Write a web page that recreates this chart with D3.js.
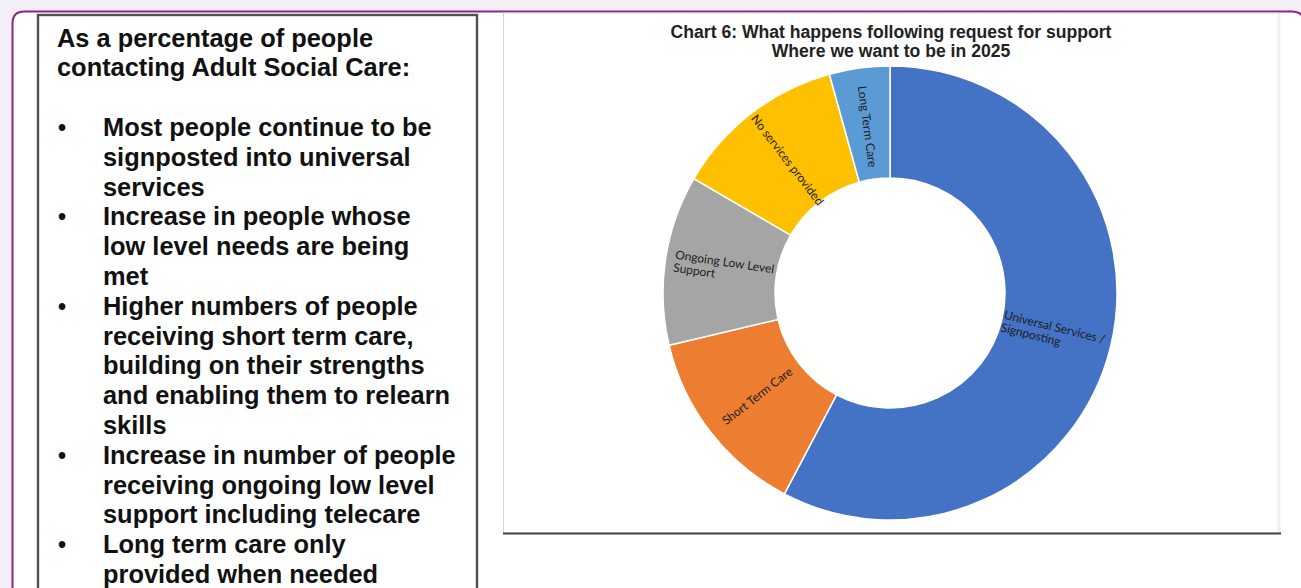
<!DOCTYPE html>
<html>
<head>
<meta charset="utf-8">
<script src="https://cdn.jsdelivr.net/npm/d3@7"></script>
<style>
  html, body { margin: 0; padding: 0; background: #f4eff6; overflow: hidden; }
  svg { display: block; }
</style>
</head>
<body>
<svg id="page" width="1301" height="588"></svg>
<script>
// Outcome shares (%) following a request for support, 2025 target
const categories = ["Universal Services / Signposting", "Short Term Care", "Ongoing Low Level Support", "No services provided", "Long Term Care"];
const values = [57.7, 13.6, 12.1, 12.3, 4.3];
const labelLines = [["Universal Services /", "Signposting"], ["Short Term Care"], ["Ongoing Low Level", "Support"], ["No services provided"], ["Long Term Care"]];
const sliceColors = ["#4472C4", "#ED7D31", "#A5A5A5", "#FFC000", "#5B9BD5"];

const titleLines = ["Chart 6: What happens following request for support", "Where we want to be in 2025"];

const introLines = ["As a percentage of people", "contacting Adult Social Care:"];
const bulletPoints = [
  ["Most people continue to be", "signposted into universal", "services"],
  ["Increase in people whose", "low level needs are being", "met"],
  ["Higher numbers of people", "receiving short term care,", "building on their strengths", "and enabling them to relearn", "skills"],
  ["Increase in number of people", "receiving ongoing low level", "support including telecare"],
  ["Long term care only", "provided when needed"]
];

const svg = d3.select("#page");

// Card with rounded top corners (right edge runs just past the page)
const cardL = 12.5, cardT = 11.5, cardR = 1304, rad = 12;
svg.append("path")
  .attr("d", `M${cardL},600 L${cardL},${cardT + rad} Q${cardL},${cardT} ${cardL + rad},${cardT} L${cardR - rad},${cardT} Q${cardR},${cardT} ${cardR},${cardT + rad} L${cardR},600`)
  .attr("fill", "#ffffff")
  .attr("stroke", "#8c2584")
  .attr("stroke-width", 2);

// Text panel
svg.append("rect")
  .attr("x", 38).attr("y", 15).attr("width", 439).attr("height", 620)
  .attr("fill", "#ffffff")
  .attr("stroke", "#505050").attr("stroke-width", 2.4);

const textG = svg.append("g")
  .attr("font-family", "'Liberation Sans', Arial, sans-serif")
  .attr("font-weight", "bold")
  .attr("font-size", 25.4)
  .attr("fill", "#111");

const lineStep = 29.8, firstBase = 46.5;
let row = 0;
introLines.forEach(t => {
  textG.append("text").attr("x", 57).attr("y", firstBase + row * lineStep).text(t);
  row++;
});
row++; // blank line
bulletPoints.forEach(item => {
  textG.append("text").attr("x", 58).attr("y", firstBase + row * lineStep)
    .attr("font-size", 23).text("\u2022");
  item.forEach(t => {
    textG.append("text").attr("x", 103).attr("y", firstBase + row * lineStep).text(t);
    row++;
  });
});

// Chart frame
svg.append("rect")
  .attr("x", 503.5).attr("y", 13).attr("width", 775).attr("height", 520)
  .attr("fill", "#ffffff")
  .attr("stroke", "#d4d4d4").attr("stroke-width", 1);
svg.append("line")
  .attr("x1", 1279).attr("x2", 1279).attr("y1", 13).attr("y2", 532)
  .attr("stroke", "#efefef").attr("stroke-width", 3);
svg.append("line")
  .attr("x1", 503).attr("x2", 1281).attr("y1", 533.5).attr("y2", 533.5)
  .attr("stroke", "#454545").attr("stroke-width", 2.2);

// Title
const title = svg.append("text")
  .attr("text-anchor", "middle")
  .attr("font-family", "'Liberation Sans', Arial, sans-serif")
  .attr("font-weight", "bold")
  .attr("font-size", 17.6)
  .attr("fill", "#222");
titleLines.forEach((t, i) => {
  title.append("tspan").attr("x", 891).attr("y", 38 + i * 18.7).text(t);
});

// Doughnut
const cx = 890, cy = 293, outerR = 227, innerR = 115, labelR = 168;
const pie = d3.pie().sort(null).value(d => d);
const arcs = pie(values);
const arc = d3.arc().innerRadius(innerR).outerRadius(outerR);

const donut = svg.append("g").attr("transform", `translate(${cx},${cy})`);
donut.selectAll("path.slice")
  .data(arcs)
  .join("path")
  .attr("class", "slice")
  .attr("d", arc)
  .attr("fill", (d, i) => sliceColors[i])
  .attr("stroke", "#ffffff")
  .attr("stroke-width", 1.5);

// Radial labels inside each slice
const lh = 13;
arcs.forEach((d, i) => {
  const mid = (d.startAngle + d.endAngle) / 2;
  const deg = mid * 180 / Math.PI;
  let rot = deg - 90;
  if (rot > 90) rot -= 180;
  const x = labelR * Math.sin(mid), y = -labelR * Math.cos(mid);
  const g = donut.append("g").attr("transform", `translate(${x},${y}) rotate(${rot})`);
  const lines = labelLines[i];
  const txt = g.append("text")
    .attr("font-family", "Lato, 'Open Sans', sans-serif")
    .attr("font-size", 12)
    .attr("fill", "#1e1e1e");
  const spans = lines.map((t, k) =>
    txt.append("tspan")
      .attr("y", (k - (lines.length - 1) / 2) * lh)
      .attr("dy", "0.35em")
      .text(t));
  const maxW = d3.max(spans, s => s.node().getComputedTextLength());
  spans.forEach(s => s.attr("x", -maxW / 2));
});
</script>
</body>
</html>
